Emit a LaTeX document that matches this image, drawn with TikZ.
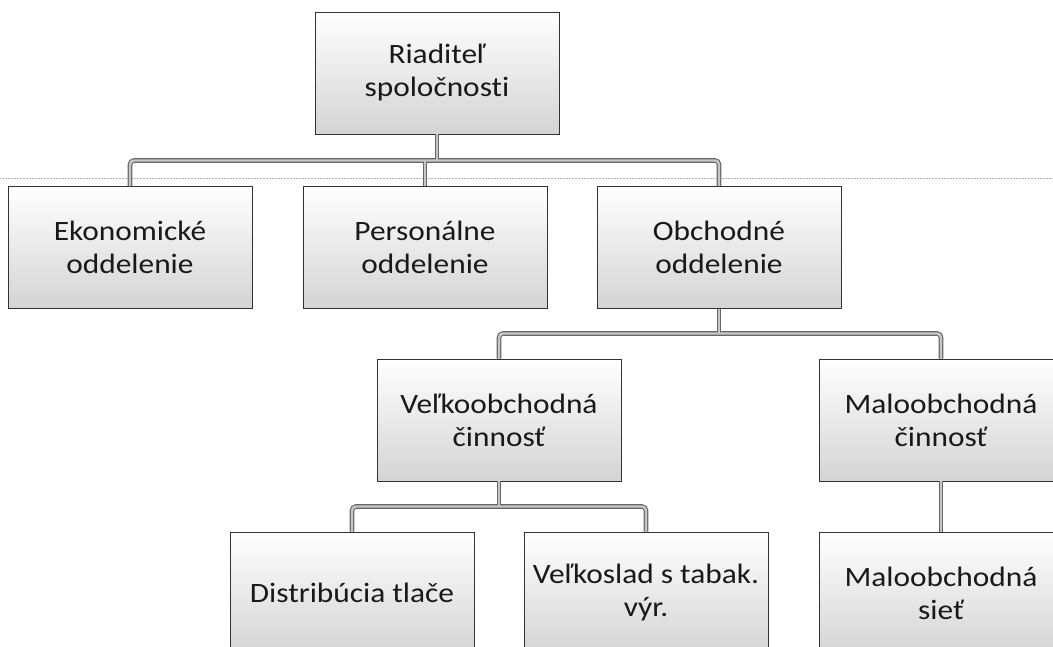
\documentclass[tikz,border=0pt]{standalone}
\usepackage{fontspec}
\setmainfont{Carlito}[FakeStretch=1.12, Ligatures=NoCommon]
\begin{document}
\begin{tikzpicture}[x=1pt,y=-1pt,
  box/.style={rectangle, draw=black!80, line width=0.9pt,
    top color=white, bottom color=black!17,
    minimum width=244pt, minimum height=122pt, inner sep=0pt,
    align=center, text=black!90,
    font=\fontsize{28}{33}\selectfont},
  outerc/.style={draw=black!60, line width=4.6pt, rounded corners=4pt},
  innerc/.style={draw=black!22, line width=2.4pt, rounded corners=4pt}]
\useasboundingbox (0,0) rectangle (1053,647);
\clip (0,0) rectangle (1053,647);
% faint scan line
\draw[black!30, line width=0.5pt, densely dotted] (0,178) -- (1053,178);
% boxes
\node[box] (top)   at (437,73)    {Riaditeľ\\spoločnost\kern0pt i};
\node[box] (eko)   at (130,247.5) {Ekonomické\\oddelenie};
\node[box] (pers)  at (425,247.5) {Personálne\\oddelenie};
\node[box] (obch)  at (719,247.5) {Obchodné\\oddelenie};
\node[box] (velko) at (499,420)   {Veľkoobchodná\\činnosť};
\node[box] (malo)  at (941,420)   {Maloobchodná\\činnosť};
\node[box] (distr) at (352,593)   {Distribúcia tlače};
\node[box] (velks) at (646,593)   {Veľkoslad s tabak.\\výr.};
\node[box] (malos) at (941,593)   {Maloobchodná\\sieť};
% junction points
\coordinate (b1) at (437,160.5);
\coordinate (b2) at (719,333.5);
\coordinate (b3) at (499,506.5);
\newcommand\myconns[1]{%
  \draw[#1] (top.south) -- (b1);
  \draw[#1] (eko.north) |- (b1) -| (obch.north);
  \draw[#1] (pers.north) -- (pers.north |- b1);
  \draw[#1] (obch.south) -- (b2);
  \draw[#1] (velko.north) |- (b2) -| (malo.north);
  \draw[#1] (velko.south) -- (b3);
  \draw[#1] (distr.north) |- (b3) -| (velks.north);
  \draw[#1] (malo.south) -- (malos.north);
}
\myconns{outerc}
\myconns{innerc}
\end{tikzpicture}
\end{document}
